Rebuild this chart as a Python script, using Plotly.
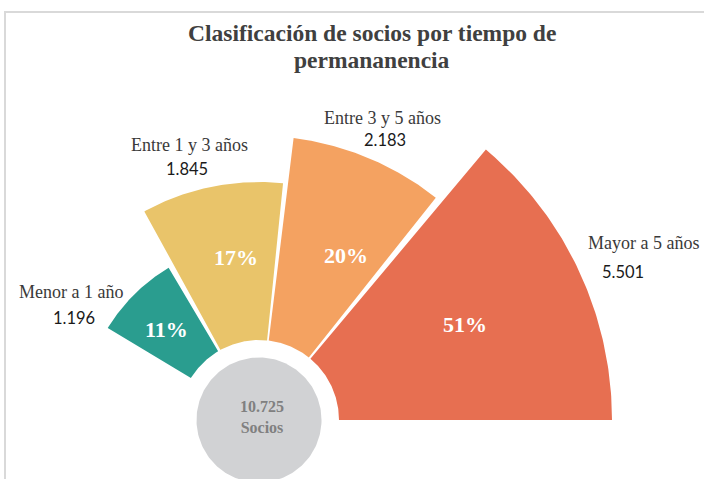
import numpy as np
import plotly.graph_objects as go

# ---- data ----
categories = ["Menor a 1 año", "Entre 1 y 3 años", "Entre 3 y 5 años", "Mayor a 5 años"]
socios = [1196, 1845, 2183, 5501]
pct_labels = ["11%", "17%", "20%", "51%"]
total_label = "10.725"
# sector geometry (degrees / radial length)
angle_start = [120.7, 84.2, 51.5, 0.0]
angle_end = [148.7, 118.8, 83.0, 50.0]
sector_radius = [177, 238, 284, 353]
inner_radius = 80
colors = ["#2A9D8F", "#E9C46A", "#F4A261", "#E76F51"]
# where the percentage labels sit (angle, radius)
pct_angle = [135.7, 98.0, 62.2, 24.8]
pct_radius = [129, 164, 186, 227]

title_lines = ["Clasificación de socios por tiempo de", "permananencia"]

fig = go.Figure()

# sectors
for i in range(len(categories)):
    th = np.radians(np.linspace(angle_start[i], angle_end[i], 80))
    xo = sector_radius[i] * np.cos(th)
    yo = sector_radius[i] * np.sin(th)
    xi = inner_radius * np.cos(th[::-1])
    yi = inner_radius * np.sin(th[::-1])
    xs = np.concatenate([xo, xi, xo[:1]])
    ys = np.concatenate([yo, yi, yo[:1]])
    fig.add_trace(go.Scatter(x=xs, y=ys, fill="toself", fillcolor=colors[i],
                             line=dict(width=0), mode="lines", hoverinfo="skip",
                             showlegend=False))

# center gray disc
th = np.radians(np.linspace(0, 360, 200))
fig.add_trace(go.Scatter(x=62.5 * np.cos(th), y=62.5 * np.sin(th), fill="toself",
                         fillcolor="#D1D2D4", line=dict(width=0), mode="lines",
                         hoverinfo="skip", showlegend=False))

serif = "Liberation Serif, Times New Roman, serif"
sans = "Lato, Liberation Sans, Arial, sans-serif"

# percentage labels inside sectors
for i in range(len(categories)):
    a = np.radians(pct_angle[i])
    fig.add_annotation(x=pct_radius[i] * np.cos(a), y=pct_radius[i] * np.sin(a),
                       text="<b>%s</b>" % pct_labels[i], showarrow=False,
                       xanchor="center", yanchor="middle",
                       font=dict(family=serif, size=22, color="white"),
                       xref="x", yref="y")

# faint hidden label
fig.add_annotation(x=-101, y=23, text="<b>5%</b>", showarrow=False,
                   xanchor="center", yanchor="middle",
                   font=dict(family=serif, size=21, color="rgba(255,255,255,0.9)"))

# total in centre
fig.add_annotation(x=3, y=3, text="<b>%s<br>Socios</b>" % total_label, showarrow=False,
                   xanchor="center", yanchor="middle",
                   font=dict(family=serif, size=16, color="#808080"))

# category labels + values (paper-pixel placement)
lab_pos = [(71, 292), (189, 145), (382, 118), (643, 243)]
val_pos = [(74, 318), (187, 169), (385, 140), (623, 272)]
for i in range(len(categories)):
    lx, ly = lab_pos[i]
    vx, vy = val_pos[i]
    fig.add_annotation(x=lx / 704, y=1 - ly / 479, xref="paper", yref="paper",
                       text=categories[i], showarrow=False,
                       xanchor="center", yanchor="middle",
                       font=dict(family=serif, size=18, color="#3a3a3a"))
    fig.add_annotation(x=vx / 704, y=1 - vy / 479, xref="paper", yref="paper",
                       text=f"{socios[i]:,}".replace(",", "."), showarrow=False,
                       xanchor="center", yanchor="middle",
                       font=dict(family=sans, size=16.5, color="#1a1a1a"))

# title
for t, ty in zip(title_lines, [33, 60]):
    fig.add_annotation(x=372 / 704, y=1 - ty / 479, xref="paper", yref="paper",
                       text="<b>%s</b>" % t, showarrow=False,
                       xanchor="center", yanchor="middle",
                       font=dict(family=serif, size=23.5, color="#404040"))

# border of panel
fig.add_shape(type="rect", xref="paper", yref="paper",
              x0=5 / 704, x1=1.05, y0=-0.05, y1=1 - 12 / 479,
              line=dict(color="#D9D9D9", width=2), fillcolor="rgba(0,0,0,0)")

fig.update_layout(
    width=704, height=479, margin=dict(l=0, r=0, t=0, b=0),
    paper_bgcolor="white", plot_bgcolor="white",
    xaxis=dict(range=[-259, 445], visible=False, fixedrange=True),
    yaxis=dict(range=[-59, 420], visible=False, fixedrange=True),
    showlegend=False,
)

fig.write_html("out.html", config={"displayModeBar": False},
               post_script="document.body.style.margin='0';document.body.style.overflow='hidden';")
